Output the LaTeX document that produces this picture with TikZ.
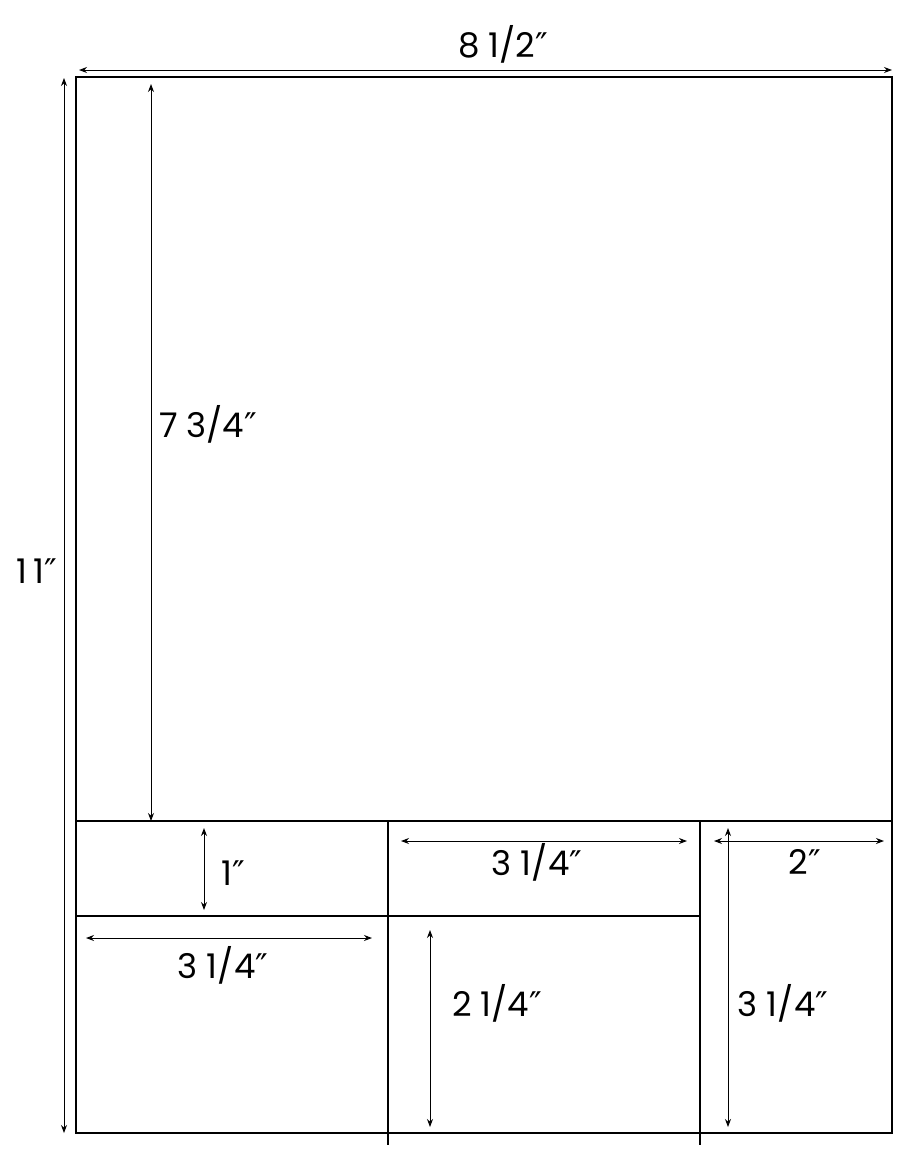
\documentclass[tikz,border=0pt]{standalone}
\usepackage{fontspec}
\setmainfont{Poppins}
\newfontfamily\primefont{DejaVu Sans}
\newcommand{\inch}{{\primefont ″}}
\usepackage{tikz}
\usetikzlibrary{arrows,arrows.meta,positioning}
\tikzstyle{sheet} = [draw, line width=0.7pt]
\tikzstyle{dim} = [{Stealth[length=4pt,width=3pt]}-{Stealth[length=4pt,width=3pt]}, line width=0.5pt]
\tikzstyle{size} = [font=\fontsize{17}{20}\selectfont, inner sep=0pt]

\begin{document}
\begin{tikzpicture}[x=0.5pt, y=-0.5pt]
    \useasboundingbox (0,0) rectangle (912,1152);

    % Sheet and cut lines
    \draw[sheet] (76,77) rectangle (892,1133);
    \draw[sheet] (76,821) -- (892,821);
    \draw[sheet] (76,916) -- (700,916);
    \draw[sheet] (388,821) -- (388,1145);
    \draw[sheet] (700,821) -- (700,1145);

    % Dimension lines
    \draw[dim] (79,70) -- (892,70);
    \draw[dim] (64,78) -- (64,1133);
    \draw[dim] (151,84) -- (151,821);
    \draw[dim] (204,828) -- (204,910);
    \draw[dim] (401,841) -- (687,841);
    \draw[dim] (714,841) -- (884,841);
    \draw[dim] (728,828) -- (728,1127);
    \draw[dim] (86,938) -- (372,938);
    \draw[dim] (430,930) -- (430,1127);

    % Labels
    \node[size] (Width) at (503,44) {8 1/2\inch};
    \node[size] (Height) at (37,571) {1\,1\inch};
    \node[size] (Top) at (208,424) {7 3/4\inch};
    \node[size] (StripH) at (233,873) {1\inch};
    \node[size] (StripW) at (537,862) {3 1/4\inch};
    \node[size] (RightW) at (805,862) {2\inch};
    \node[size] (LeftW) at (223,965) {3 1/4\inch};
    \node[size] (MidH) at (497,1003) {2 1/4\inch};
    \node[size] (RightH) at (783,1003) {3 1/4\inch};
\end{tikzpicture}
\end{document}
